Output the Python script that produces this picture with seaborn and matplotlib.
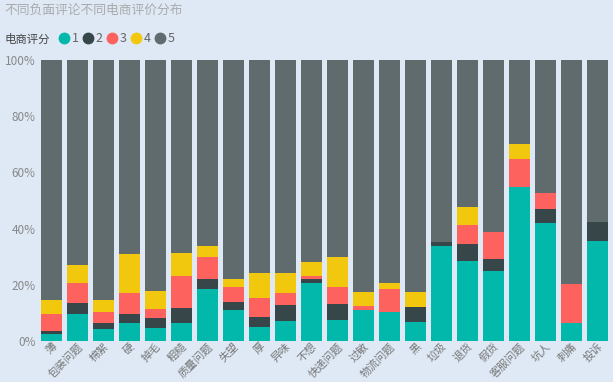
import numpy as np
import pandas as pd
import matplotlib.pyplot as plt
import seaborn as sns
from matplotlib.lines import Line2D
from matplotlib.ticker import PercentFormatter

# -----------------------------
# Data (share of each rating, %)
# -----------------------------
cats = ["薄", "包装问题", "棉絮", "硬", "掉毛", "粗糙", "质量问题", "失望", "厚", "异味",
        "不想", "快递问题", "过敏", "物流问题", "黑", "垃圾", "退货", "假货", "客服问题",
        "坑人", "刺痛", "投诉"]
s1 = [2.5, 9.5, 4.2, 6.3, 4.7, 6.3, 18.4, 10.9, 4.9, 7.1, 20.8, 7.5, 10.9, 10.3, 6.9,
      34.0, 28.4, 25.0, 54.9, 42.1, 6.5, 35.7]
s2 = [1.1, 3.9, 2.3, 3.2, 3.5, 5.4, 3.8, 3.0, 3.6, 5.6, 1.2, 5.7, 0.0, 0.0, 5.1,
      1.4, 6.2, 4.3, 0.0, 5.0, 0.0, 6.8]
s3 = [6.0, 7.1, 3.7, 7.7, 3.1, 11.4, 7.6, 5.4, 6.7, 4.4, 1.1, 6.0, 1.7, 8.4, 0.0,
      0.0, 6.7, 9.4, 10.0, 5.7, 13.7, 0.0]
s4 = [5.2, 6.5, 4.4, 13.8, 6.5, 8.1, 4.2, 2.7, 8.9, 7.1, 4.9, 10.6, 4.7, 1.8, 5.4,
      0.0, 6.5, 0.0, 5.1, 0.0, 0.0, 0.0]
s5 = [85.2, 73.0, 85.4, 69.0, 82.2, 68.8, 66.0, 78.0, 75.9, 75.8, 72.0, 70.2, 82.7,
      79.5, 82.6, 64.6, 52.2, 61.3, 30.0, 47.2, 79.8, 57.5]
levels = ["1", "2", "3", "4", "5"]
colors = ["#01B8AA", "#374649", "#FD625E", "#F2C80F", "#5F6B6D"]

df = pd.DataFrame({"cat": cats, "1": s1, "2": s2, "3": s3, "4": s4, "5": s5})
tops = df[levels].cumsum(axis=1)
tops["cat"] = df["cat"]

# -----------------------------
# Plot
# -----------------------------
sns.set_theme(style="white")
plt.rcParams["font.family"] = ["Noto Sans CJK SC", "DejaVu Sans"]
bg = "#DEE9F5"

fig = plt.figure(figsize=(6.13, 3.82), dpi=100, facecolor=bg)
ax = fig.add_axes([0.063, 0.107, 0.933, 0.736])
ax.set_facecolor(bg)

# draw from the tallest cumulative stack down so lower levels sit on top
for lvl, col in reversed(list(zip(levels, colors))):
    sns.barplot(data=tops, x="cat", y=lvl, color=col, width=0.8,
                saturation=1, linewidth=0, ax=ax, zorder=2)

ax.set_ylim(0, 100)
ax.set_xlim(-0.5, len(cats) - 0.5)
ax.yaxis.set_major_formatter(PercentFormatter(decimals=0))
ax.set_yticks([0, 20, 40, 60, 80, 100])
ax.set_xlabel("")
ax.set_ylabel("")
ax.tick_params(axis="y", colors="#888888", labelsize=8.5, length=0, pad=2)
ax.tick_params(axis="x", colors="#777777", labelsize=7.8, length=0, pad=0)
plt.setp(ax.get_xticklabels(), rotation=45, ha="right", rotation_mode="anchor")
sns.despine(ax=ax, left=True, bottom=True)

fig.text(0.007, 0.972, "不同负面评论不同电商评价分布", color="#AAAAAA", fontsize=9.2,
         va="center")
fig.text(0.007, 0.898, "电商评分", color="#444444", fontsize=8.2, va="center")
handles = [Line2D([], [], marker="o", linestyle="", markersize=7.5,
                  markerfacecolor=c, markeredgecolor=c) for c in colors]
fig.legend(handles, levels, loc="center left", bbox_to_anchor=(0.097, 0.898),
           ncol=5, frameon=False, handletextpad=0.2, columnspacing=0.35,
           handlelength=0.8, fontsize=9, labelcolor="#666666", borderaxespad=0,
           borderpad=0)

fig.savefig("out.png", dpi=100, facecolor=bg)
